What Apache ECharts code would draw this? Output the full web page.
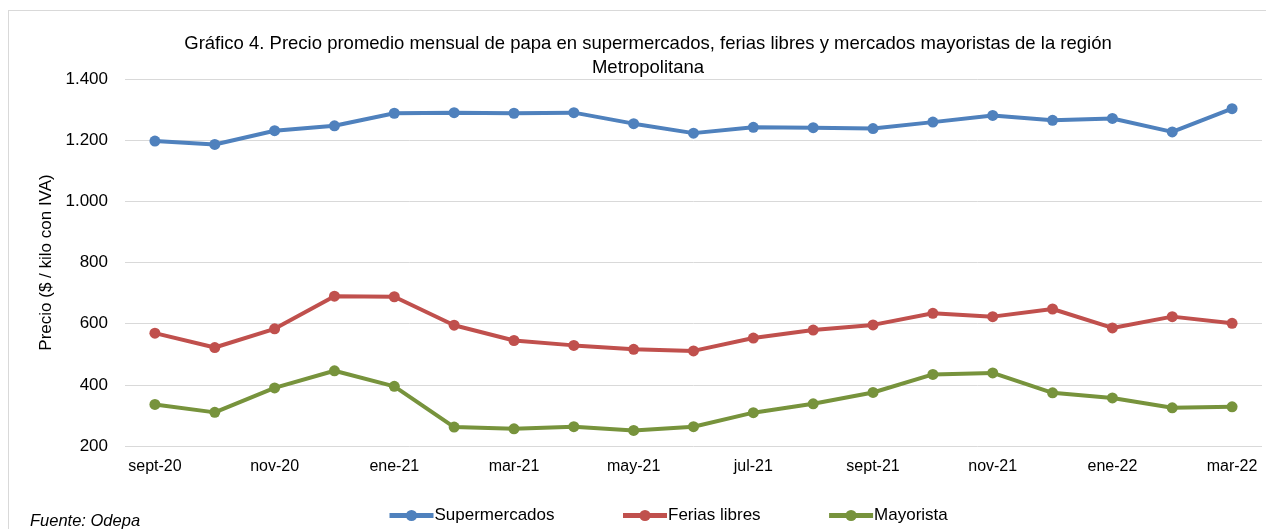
<!DOCTYPE html>
<html>
<head>
<meta charset="utf-8">
<script src="https://cdn.jsdelivr.net/npm/echarts@6/dist/echarts.min.js"></script>
<style>
  html, body { margin: 0; padding: 0; background: #fff; overflow: hidden; }
  #frame { position: absolute; left: 8px; top: 10px; width: 1400px; height: 700px; border: 1px solid #d9d9d9; }
  #chart { position: absolute; left: 0; top: 0; width: 1266px; height: 529px; }
</style>
</head>
<body>
<div id="frame"></div>
<div id="chart"></div>
<script>
// meses sept-20 .. mar-22
const months = ['sept-20', 'oct-20', 'nov-20', 'dic-20', 'ene-21', 'feb-21', 'mar-21', 'abr-21', 'may-21', 'jun-21',
    'jul-21', 'ago-21', 'sept-21', 'oct-21', 'nov-21', 'dic-21', 'ene-22', 'feb-22', 'mar-22']

const supermercados = [1197, 1186, 1231, 1247, 1288, 1290, 1288, 1290, 1254, 1223, 1242, 1241, 1238, 1259, 1281, 1265, 1271, 1227, 1303]
const feriasLibres = [569, 522, 583, 690, 688, 595, 545, 529, 516, 511, 553, 579, 596, 634, 623, 648, 586, 623, 601]
const mayorista = [336, 310, 390, 446, 395, 262, 256, 263, 251, 263, 309, 338, 375, 434, 439, 374, 357, 325, 328]

const font = 'Liberation Sans'

const makeSeries = (name, data, color) => ({
    name,
    type: 'line',
    data,
    symbol: 'circle',
    symbolSize: 11,
    lineStyle: { color, width: 4 },
    itemStyle: { color },
    emphasis: { disabled: true }
})

const chart = echarts.init(document.getElementById('chart'))

chart.setOption({
    animation: false,
    textStyle: { fontFamily: font },
    title: {
        text: 'Gráfico 4. Precio promedio mensual de papa en supermercados, ferias libres y mercados mayoristas de la región\nMetropolitana',
        left: 643,
        top: 27,
        textAlign: 'center',
        textStyle: { fontSize: 18.5, fontWeight: 'normal', color: '#000', lineHeight: 24, fontFamily: font }
    },
    legend: {
        bottom: 0,
        left: 382,
        itemWidth: 44,
        itemHeight: 14,
        itemGap: 66,
        lineStyle: { width: 5 },
        textStyle: { fontSize: 17, color: '#000', padding: [0, 0, 0, -4] }
    },
    grid: {
        left: 125,
        right: 4,
        top: 79,
        bottom: 83
    },
    xAxis: {
        type: 'category',
        data: months,
        boundaryGap: true,
        axisLine: { show: false },
        axisTick: { show: false },
        axisLabel: { interval: 1, fontSize: 16, color: '#000', margin: 13 }
    },
    yAxis: {
        type: 'value',
        min: 200,
        max: 1400,
        interval: 200,
        name: 'Precio ($ / kilo con IVA)',
        nameLocation: 'middle',
        nameGap: 64,
        nameTextStyle: { fontSize: 17, color: '#000' },
        axisLine: { show: false },
        axisTick: { show: false },
        axisLabel: {
            fontSize: 17,
            color: '#000',
            margin: 17,
            formatter: v => v.toLocaleString('de-DE')
        },
        splitLine: { lineStyle: { color: '#d9d9d9', width: 1 } }
    },
    graphic: [
        {
            type: 'text',
            left: 30,
            top: 513,
            style: { text: 'Fuente: Odepa', font: 'italic 16.5px ' + font, fill: '#000' }
        }
    ],
    series: [
        makeSeries('Supermercados', supermercados, '#4f81bd'),
        makeSeries('Ferias libres', feriasLibres, '#c0504d'),
        makeSeries('Mayorista', mayorista, '#77933c')
    ]
})
</script>
</body>
</html>
